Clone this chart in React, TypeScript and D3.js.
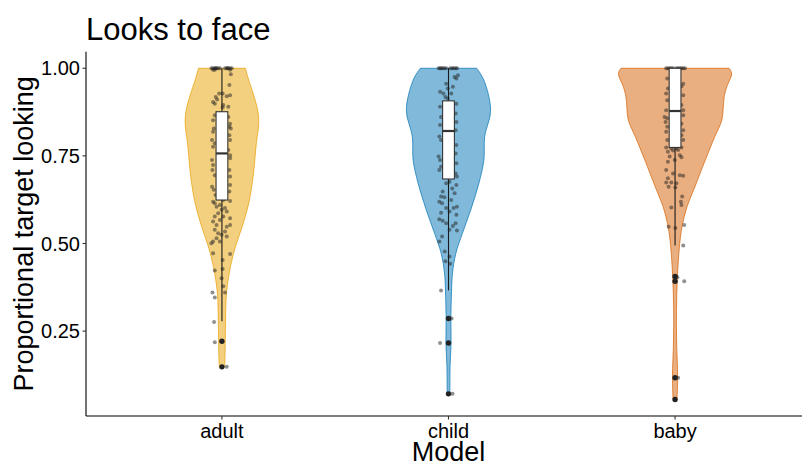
import React from "react";
import * as d3 from "d3";

const categories = ["adult", "child", "baby"];
const lineColors = ["#E69F00", "#0072B2", "#D55E00"];

// violin outlines: [value, density]
const adultDensity: [number, number][] = [
  [0.148, 0.13], [0.169, 0.15], [0.264, 0.18], [0.359, 0.23], [0.434, 0.43],
  [0.491, 0.68], [0.548, 1.02], [0.615, 1.35], [0.691, 1.57], [0.786, 1.73],
  [0.842, 1.85], [0.88, 1.8], [0.937, 1.52], [0.966, 1.35], [1.0, 1.18],
];
const childDensity: [number, number][] = [
  [0.071, 0.07], [0.15, 0.08], [0.216, 0.13], [0.283, 0.12], [0.359, 0.15],
  [0.415, 0.2], [0.472, 0.37], [0.529, 0.7], [0.596, 1.12], [0.672, 1.53],
  [0.738, 1.78], [0.805, 1.82], [0.88, 2.12], [0.966, 1.78], [1.0, 1.42],
];
const babyDensity: [number, number][] = [
  [0.055, 0.1], [0.121, 0.13], [0.216, 0.08], [0.311, 0.07], [0.406, 0.12],
  [0.491, 0.22], [0.548, 0.35], [0.605, 0.6], [0.662, 1.0], [0.738, 1.52],
  [0.805, 2.0], [0.852, 2.35], [0.918, 2.47], [0.947, 2.6], [0.985, 2.85],
  [1.0, 2.72],
];

// jittered observations: [jitter (-1..1), value]
const adultPoints: [number, number][] = [
  [-1.03, 1], [-0.87, 1], [-0.7, 1], [-0.6, 1], [-0.53, 1], [-0.37, 1], [-0.2, 1],
  [0.3, 1], [0.47, 1], [0.55, 1], [0.63, 1], [0.8, 1], [0.97, 1],
  [-0.7, 0.996], [0.8, 0.996], [0.87, 0.983], [-0.87, 0.996], [0.73, 0.952],
  [-0.27, 0.928], [-0.6, 0.918], [0.07, 0.928], [-0.47, 0.911], [0.47, 0.92], [0.8, 0.923],
  [-0.87, 0.904], [-0.7, 0.899], [0.13, 0.895], [0.63, 0.89], [0.07, 0.888],
  [-0.7, 0.866], [-0.87, 0.852], [0.63, 0.861], [0.8, 0.842], [0.73, 0.833], [-0.8, 0.828], [0.87, 0.828],
  [-0.87, 0.819], [0.73, 0.809], [-0.97, 0.795], [0.8, 0.795], [-0.7, 0.786],
  [-0.87, 0.776], [0.63, 0.767], [0.8, 0.752], [-0.97, 0.738], [0.8, 0.743],
  [-0.87, 0.724], [-0.93, 0.71], [0.73, 0.71], [-0.7, 0.695], [0.8, 0.691],
  [-0.97, 0.662], [0.8, 0.667], [-0.8, 0.653], [0.73, 0.648], [-0.63, 0.638],
  [-0.87, 0.619], [0.13, 0.624], [0.8, 0.621], [-0.7, 0.615], [-0.2, 0.61], [-0.53, 0.605], [0.3, 0.601], [-0.03, 0.596],
  [-0.37, 0.586], [0.47, 0.591], [-0.7, 0.577], [0.13, 0.577], [0.8, 0.572], [-0.2, 0.567], [-0.87, 0.563], [-0.53, 0.553], [0.47, 0.548], [0.8, 0.553],
  [-0.7, 0.539], [0.3, 0.534], [-0.37, 0.529], [-0.03, 0.525], [0.47, 0.52], [-0.53, 0.515], [-0.87, 0.506], [-0.2, 0.506], [-1.03, 0.501],
  [-0.87, 0.472], [0.8, 0.47], [0.07, 0.453], [-0.7, 0.423], [0.07, 0.427],
  [-0.03, 0.401], [0.13, 0.378], [-0.93, 0.36], [0.3, 0.36], [-0.7, 0.346],
  [-0.77, 0.276], [-0.7, 0.218], [0, 0.221], [0, 0.148], [0.47, 0.148],
];
const childPoints: [number, number][] = [
  [-0.97, 1], [-0.83, 1], [-0.7, 1], [-0.57, 1], [-0.4, 1], [-0.23, 1], [0.17, 1], [0.37, 1], [0.5, 1], [0.7, 1], [0.83, 1],
  [0.93, 0.98], [0.77, 0.971], [0.6, 0.975],
  [-0.23, 0.956], [0.43, 0.947], [-0.07, 0.942], [-0.83, 0.933], [-0.5, 0.928], [0.27, 0.928], [-0.3, 0.918], [-0.07, 0.914],
  [0.77, 0.899], [-0.83, 0.89], [0.7, 0.871], [-0.73, 0.861], [0.77, 0.847], [-0.83, 0.838], [0.7, 0.823], [-0.9, 0.805],
  [-0.73, 0.795], [0.77, 0.781], [0.7, 0.757], [-0.97, 0.748], [-0.83, 0.738], [-0.73, 0.719], [0.77, 0.729], [-0.9, 0.71],
  [0.7, 0.7], [0.83, 0.691],
  [0.1, 0.676], [-0.23, 0.672], [0.77, 0.667], [0.37, 0.657], [-0.57, 0.648], [0.6, 0.643], [-0.73, 0.634], [-0.4, 0.632],
  [0.27, 0.624], [-0.9, 0.619], [-0.63, 0.615], [0.83, 0.605], [-0.23, 0.601], [0.5, 0.601], [-0.73, 0.588], [0.1, 0.591],
  [0.77, 0.582], [-0.9, 0.569], [-0.57, 0.565], [-0.23, 0.558], [0.7, 0.558], [0.43, 0.55], [0.1, 0.539], [0.83, 0.537],
  [-0.63, 0.52], [-0.9, 0.506], [-0.37, 0.477], [0.1, 0.463], [-0.3, 0.449], [0.17, 0.442],
  [-0.73, 0.366], [0.3, 0.286], [-0.83, 0.216], [0.4, 0.071],
];
const babyPoints: [number, number][] = [
  [-0.87, 1], [-0.7, 1], [-0.53, 1], [-0.37, 1], [-0.2, 1], [0.13, 1], [0.3, 1], [0.47, 1], [0.63, 1], [0.8, 1], [0.97, 1],
  [-0.77, 0.971], [0.8, 0.956], [0.63, 0.949], [-0.7, 0.942], [-0.87, 0.928], [0.8, 0.923], [-0.77, 0.909], [0.63, 0.895],
  [-0.87, 0.88], [0.8, 0.88], [-1.03, 0.861], [-0.77, 0.857], [0.8, 0.866], [-0.93, 0.847], [0.63, 0.842], [-0.77, 0.833],
  [0.8, 0.823], [-0.87, 0.819], [0.63, 0.809], [-0.77, 0.795], [0.8, 0.795], [-0.87, 0.774], [-0.37, 0.771], [0.13, 0.771], [0.63, 0.774],
  [-0.7, 0.762], [-0.2, 0.765], [0.3, 0.767], [0.47, 0.752], [-0.53, 0.748], [0.63, 0.746], [-0.7, 0.733], [-0.03, 0.738],
  [-0.87, 0.71], [-0.2, 0.7], [0.47, 0.695], [0.8, 0.693], [-0.7, 0.686], [-0.87, 0.674], [-0.37, 0.674], [0.13, 0.672],
  [-0.63, 0.662], [0.03, 0.66], [0.7, 0.634], [0.57, 0.619], [0.63, 0.61], [-0.37, 0.603],
  [-0.63, 0.548], [0.03, 0.544], [0.9, 0.553], [0.8, 0.494],
  [0.23, 0.404], [0.9, 0.392], [0.3, 0.117], [0, 0.055],
];

// boxplot summaries per category
const whiskerLow = [0.278, 0.366, 0.494];
const q1 = [0.624, 0.684, 0.774];
const medians = [0.757, 0.821, 0.878];
const q3 = [0.876, 0.907, 1.0];
const whiskerHigh = [1.0, 1.0, 1.0];
const outliers = [[0.221, 0.148], [0.286, 0.216, 0.071], [0.406, 0.392, 0.117, 0.055]];

const yTicks = [0.25, 0.5, 0.75, 1.0];

const densities = [adultDensity, childDensity, babyDensity];
const points = [adultPoints, childPoints, babyPoints];

const W = 802;
const H = 464;
const font = "'Liberation Sans', Arial, Helvetica, sans-serif";

export default function App() {
  const left = 86;
  const top = 51.7;
  const bottom = 416;

  const allVals = points.flat().map((d) => d[1]);
  const [lo, hi] = d3.extent(allVals) as [number, number];
  const pad = (hi - lo) * 0.05;
  const y = d3.scaleLinear().domain([lo - pad, hi + pad]).range([bottom, top]);
  const x = d3.scalePoint<string>().domain(categories).range([left, 811]).padding(0.6);
  const step = x.step();

  const maxDens = d3.max(densities.flat(), (d) => d[1]) as number;
  const wScale = d3.scaleLinear().domain([0, maxDens]).range([0, 0.25 * step]);
  const jitter = d3.scaleLinear().domain([-1, 1]).range([-0.045 * step, 0.045 * step]);
  const boxHalf = 0.026 * step;

  return (
    <svg width={W} height={H} style={{ position: "absolute", left: 0, top: 0, background: "#fff" }} fontFamily={font}>
      {categories.map((c, i) => {
        const cx = x(c) as number;
        const area = d3
          .area<[number, number]>()
          .y((d) => y(d[0]))
          .x0((d) => cx - wScale(d[1]))
          .x1((d) => cx + wScale(d[1]))
          .curve(d3.curveCatmullRom);
        const fill = d3.interpolateRgb(lineColors[i], "#ffffff")(0.5);
        return (
          <g key={c}>
            <path d={area(densities[i]) || ""} fill={fill} stroke={lineColors[i]} strokeWidth={0.7} />
            {points[i].map((p, k) => (
              <circle key={k} cx={cx + jitter(p[0])} cy={y(p[1])} r={2} fill="#222" fillOpacity={0.5} />
            ))}
            <line x1={cx} x2={cx} y1={y(whiskerHigh[i])} y2={y(q3[i])} stroke="#1a1a1a" strokeWidth={1.1} />
            <line x1={cx} x2={cx} y1={y(q1[i])} y2={y(whiskerLow[i])} stroke="#1a1a1a" strokeWidth={1.1} />
            <rect
              x={cx - boxHalf}
              y={y(q3[i])}
              width={boxHalf * 2}
              height={y(q1[i]) - y(q3[i])}
              fill="#fff"
              stroke="#333"
              strokeWidth={1.1}
            />
            <line x1={cx - boxHalf} x2={cx + boxHalf} y1={y(medians[i])} y2={y(medians[i])} stroke="#333" strokeWidth={2.2} />
            {outliers[i].map((o, k) => (
              <circle key={"o" + k} cx={cx} cy={y(o)} r={2.7} fill="#222" />
            ))}
          </g>
        );
      })}

      {/* axes */}
      <line x1={left} x2={left} y1={top} y2={bottom} stroke="#000" strokeWidth={1.1} />
      <line x1={left} x2={W} y1={bottom} y2={bottom} stroke="#000" strokeWidth={1.1} />
      {yTicks.map((t) => (
        <g key={t}>
          <line x1={left - 3.5} x2={left} y1={y(t)} y2={y(t)} stroke="#333" strokeWidth={1.1} />
          <text x={left - 6} y={y(t)} dy="0.36em" textAnchor="end" fontSize={20} fill="#000">
            {d3.format(".2f")(t)}
          </text>
        </g>
      ))}
      {categories.map((c) => (
        <g key={c}>
          <line x1={x(c)} x2={x(c)} y1={bottom} y2={bottom + 3.5} stroke="#333" strokeWidth={1.1} />
          <text x={x(c)} y={bottom + 21.5} textAnchor="middle" fontSize={20} fill="#000">
            {c}
          </text>
        </g>
      ))}

      <text x={448.5} y={461} textAnchor="middle" fontSize={27} fill="#000">
        Model
      </text>
      <text transform={`translate(33, ${(top + bottom) / 2}) rotate(-90)`} textAnchor="middle" fontSize={27} fill="#000">
        Proportional target looking
      </text>
      <text x={86} y={39.5} fontSize={31} fill="#000">
        Looks to face
      </text>
    </svg>
  );
}
